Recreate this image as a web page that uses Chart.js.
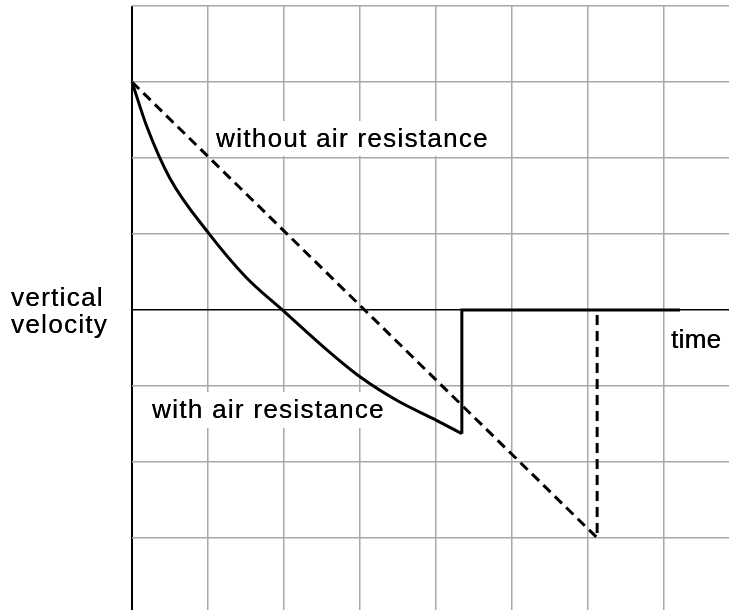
<!DOCTYPE html>
<html>
<head>
<meta charset="utf-8">
<script src="https://cdn.jsdelivr.net/npm/chart.js@4.4.1/dist/chart.umd.min.js"></script>
<style>
  html, body { margin: 0; padding: 0; background: #ffffff; }
  #wrap { width: 729px; height: 610px; }
</style>
</head>
<body>
<div id="wrap"><canvas id="c" width="729" height="610"></canvas></div>
<script>
// ---- data (grid units: one grid square = 1) ----
const curveTime = [0, 0.2, 0.5, 1.0, 1.5, 2.0, 2.5, 3.0, 3.5, 4.0, 4.34];
const curveVel  = [3, 2.4, 1.73, 1.02, 0.43, -0.02, -0.47, -0.88, -1.2, -1.45, -1.63];

const stepTime = [4.34, 4.34, 7.21];
const stepVel  = [-1.63, 0, 0];

const noAirTime = [0, 6.12, 6.12];
const noAirVel  = [3, -3.0, 0];

const xTicks = [0, 1, 2, 3, 4, 5, 6, 7];
const yTicks = [-3, -2, -1, 0, 1, 2, 3, 4];

const labels = [
  { text: 'without air resistance', x: 216, y: 146.5, box: [211, 121, 283, 35] },
  { text: 'with air resistance', x: 152, y: 418, box: [146, 392, 243, 36] },
  { text: 'vertical', x: 11, y: 305.5 },
  { text: 'velocity', x: 11, y: 333 },
  { text: 'time', x: 671, y: 348, spacing: 0.3 }
];

const pts = (xs, ys) => xs.map((x, i) => ({ x: x, y: ys[i] }));

const labelPlugin = {
  id: 'labels',
  beforeDatasetsDraw(chart) {
    const ctx = chart.ctx;
    ctx.save();
    ctx.fillStyle = '#ffffff';
    labels.forEach(l => { if (l.box) ctx.fillRect(l.box[0], l.box[1], l.box[2], l.box[3]); });
    ctx.restore();
  },
  afterDatasetsDraw(chart) {
    const ctx = chart.ctx;
    ctx.save();
    ctx.fillStyle = '#000000';
    ctx.font = '26px "Liberation Sans", Arial, sans-serif';
    ctx.textBaseline = 'alphabetic';
    ctx.textAlign = 'left';
    labels.forEach(l => {
      ctx.letterSpacing = (l.spacing !== undefined ? l.spacing : 1.3) + 'px';
      ctx.fillText(l.text, l.x, l.y);
      ctx.fillText(l.text, l.x + 0.3, l.y);
    });
    ctx.restore();
  }
};

const gridColor = (ctx) => (ctx.tick && ctx.tick.value === 0) ? '#000000' : '#a8a8a8';

new Chart(document.getElementById('c'), {
  type: 'scatter',
  data: {
    datasets: [
      { data: pts(curveTime, curveVel), showLine: true, borderColor: '#000', borderWidth: 3,
        cubicInterpolationMode: 'monotone', pointRadius: 0, clip: false },
      { data: pts(stepTime, stepVel), showLine: true, borderColor: '#000', borderWidth: 3,
        pointRadius: 0, clip: false, borderJoinStyle: 'miter' },
      { data: pts(noAirTime, noAirVel), showLine: true, borderColor: '#000', borderWidth: 3,
        borderDash: [10, 6], pointRadius: 0, clip: false, borderJoinStyle: 'miter' }
    ]
  },
  options: {
    responsive: false,
    animation: false,
    devicePixelRatio: 1,
    layout: { padding: { left: 132, top: 6, right: 0, bottom: 0 } },
    plugins: { legend: { display: false }, tooltip: { enabled: false } },
    scales: {
      x: {
        type: 'linear', min: 0, max: 7.855,
        afterBuildTicks: (s) => { s.ticks = xTicks.map(v => ({ value: v })); },
        ticks: { display: false },
        border: { display: false },
        grid: { color: gridColor, lineWidth: (c) => (c.tick && c.tick.value === 0) ? 2 : 1.5, drawTicks: false }
      },
      y: {
        type: 'linear', min: -3.95, max: 4,
        afterBuildTicks: (s) => { s.ticks = yTicks.map(v => ({ value: v })); },
        ticks: { display: false },
        border: { display: false },
        grid: { color: gridColor, lineWidth: 1.5, drawTicks: false }
      }
    }
  },
  plugins: [labelPlugin]
});
</script>
</body>
</html>
